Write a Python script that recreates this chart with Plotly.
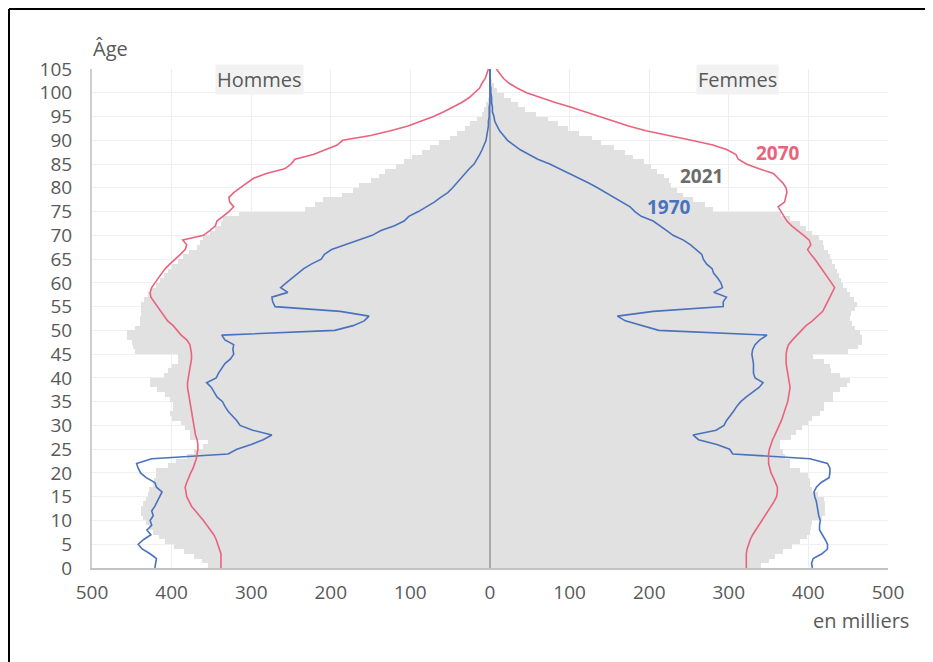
import plotly.graph_objects as go

ages = list(range(106))

men_2021 = [354, 362, 372, 385, 397, 408, 416, 423, 428, 432,
            436, 438, 438, 436, 432, 430, 428, 424, 422, 420,
            419, 405, 394, 381, 372, 360, 354, 377, 377, 383,
            388, 400, 402, 398, 398, 402, 408, 418, 427, 427,
            410, 405, 400, 392, 392, 446, 448, 450, 456, 456,
            446, 440, 440, 438, 438, 438, 435, 430, 426, 420,
            415, 410, 404, 400, 392, 386, 378, 368, 364, 360,
            352, 346, 338, 335, 315, 232, 220, 210, 186, 172,
            165, 150, 140, 132, 118, 108, 98, 86, 76, 64,
            50, 42, 32, 25, 16, 10, 8, 5, 2, 1,
            1, 0, 0, 0, 0, 0]

women_2021 = [341, 350, 358, 368, 380, 390, 398, 402, 403, 405,
              417, 421, 421, 421, 420, 412, 405, 402, 402, 400,
              390, 377, 377, 370, 368, 364, 364, 378, 385, 392,
              400, 404, 415, 419, 419, 431, 431, 440, 448, 452,
              440, 428, 427, 419, 406, 450, 462, 467, 467, 465,
              458, 455, 452, 454, 458, 461, 457, 452, 448, 444,
              441, 439, 436, 433, 430, 427, 424, 420, 418, 413,
              404, 397, 390, 377, 365, 280, 270, 255, 243, 235,
              228, 225, 219, 210, 202, 193, 180, 170, 156, 140,
              128, 112, 98, 86, 73, 58, 44, 35, 26, 17,
              9, 5, 3, 1, 1, 0]

men_1970 = [421, 420, 419, 427, 437, 442, 435, 426, 431, 425,
            427, 423, 425, 421, 418, 414, 412, 419, 421, 432,
            439, 442, 444, 425, 329, 318, 300, 285, 274, 298,
            314, 318, 324, 329, 333, 336, 343, 347, 350, 356,
            344, 341, 337, 333, 326, 322, 323, 322, 333, 337,
            195, 172, 158, 152, 188, 270, 273, 274, 254, 263,
            256, 249, 242, 234, 224, 212, 208, 199, 182, 165,
            148, 137, 120, 108, 102, 90, 80, 70, 62, 53,
            47, 42, 36, 31, 26, 20, 16, 13, 10, 7,
            5, 4, 3, 2, 2, 1, 1, 1, 0, 0,
            0, 0, 0, 0, 0, 0]

women_1970 = [405, 404, 406, 417, 424, 424, 421, 418, 414, 414,
              415, 413, 412, 411, 410, 408, 407, 410, 416, 426,
              427, 427, 424, 402, 305, 301, 285, 262, 255, 284,
              294, 297, 302, 306, 310, 315, 322, 330, 338, 343,
              333, 331, 331, 331, 330, 329, 330, 333, 339, 348,
              212, 190, 170, 160, 205, 293, 293, 297, 281, 292,
              290, 286, 281, 279, 272, 268, 266, 259, 252, 243,
              230, 222, 214, 205, 190, 182, 176, 166, 155, 145,
              135, 124, 112, 100, 88, 75, 60, 48, 38, 30,
              22, 17, 12, 9, 6, 5, 3, 3, 2, 2,
              1, 1, 0, 0, 0, 0]

men_2070 = [338, 338, 338, 338, 340, 342, 344, 347, 351, 356,
            360, 365, 370, 375, 378, 381, 382, 383, 381, 379,
            376, 373, 371, 369, 368, 367, 367, 368, 370, 371,
            372, 373, 374, 375, 376, 377, 378, 379, 380, 380,
            379, 378, 377, 376, 375, 375, 376, 377, 381, 388,
            393, 398, 405, 409, 413, 417, 422, 426, 427, 425,
            421, 417, 413, 408, 402, 395, 389, 383, 381, 386,
            360, 352, 345, 343, 335, 328, 322, 327, 328, 322,
            314, 306, 297, 281, 258, 250, 245, 222, 206, 192,
            185, 150, 125, 103, 87, 71, 58, 46, 35, 26,
            20, 13, 10, 6, 4, 2]

women_2070 = [322, 322, 322, 322, 323, 325, 327, 330, 334, 338,
              341, 346, 350, 354, 357, 360, 361, 361, 359, 356,
              353, 351, 350, 350, 350, 351, 353, 355, 358, 361,
              363, 366, 368, 370, 372, 374, 375, 376, 377, 376,
              375, 374, 373, 372, 372, 372, 373, 375, 380, 386,
              392, 397, 405, 412, 418, 421, 424, 428, 431, 433,
              429, 425, 421, 416, 412, 408, 403, 399, 403, 401,
              394, 386, 379, 373, 369, 365, 362, 370, 372, 373,
              372, 368, 362, 356, 338, 322, 312, 309, 298, 280,
              253, 222, 196, 174, 156, 138, 120, 101, 81, 62,
              46, 34, 24, 17, 12, 8]

x_ticks = [-500, -400, -300, -200, -100, 0, 100, 200, 300, 400, 500]
x_ticktext = ["500", "400", "300", "200", "100", "0", "100", "200", "300", "400", "500"]
y_ticks = list(range(0, 106, 5))

GRAY_FILL = "#e1e1e1"
RED = "#e9637c"
BLUE = "#4a72bd"
TXT = "#595959"
FONT = "Open Sans"

fig = go.Figure()

fig.add_trace(go.Bar(
    y=ages, x=[-v for v in men_2021], orientation="h", width=1, offset=0,
    marker=dict(color=GRAY_FILL, line=dict(width=0)), showlegend=False,
))
fig.add_trace(go.Bar(
    y=ages, x=women_2021, orientation="h", width=1, offset=0,
    marker=dict(color=GRAY_FILL, line=dict(width=0)), showlegend=False,
))

# central axis line
fig.add_trace(go.Scatter(x=[0, 0], y=[0, 105], mode="lines",
                         line=dict(color="#a9a9a9", width=2), showlegend=False,
                         hoverinfo="skip"))

for vals, sign, col in [(men_1970, -1, BLUE), (women_1970, 1, BLUE),
                        (men_2070, -1, RED), (women_2070, 1, RED)]:
    fig.add_trace(go.Scatter(
        x=[sign * v for v in vals], y=ages, mode="lines",
        line=dict(color=col, width=1.6), showlegend=False,
    ))

# the page body has an 8px margin: work in screen coordinates and shift
OFF = 8
W, H = 933 - OFF, 662 - OFF
PL, PR, PT, PB = 92, 888, 69, 568          # plot area in screen pixels
L, T = PL - OFF, PT - OFF
R, B = W - (PR - OFF), H - (PB - OFF)
pw, ph = W - L - R, H - T - B


def px(xs):
    return (xs - OFF - L) / pw


def py(ys):
    return (H - B - (ys - OFF)) / ph


frame_col = "#000000"
fx0, fy0, fx1 = 9, 9, 927
shapes = [
    dict(type="line", xref="paper", yref="paper", x0=px(fx0), x1=px(fx0), y0=py(fy0), y1=py(720),
         line=dict(color=frame_col, width=2)),
    dict(type="line", xref="paper", yref="paper", x0=px(fx0), x1=px(fx1), y0=py(fy0), y1=py(fy0),
         line=dict(color=frame_col, width=2)),
    dict(type="line", xref="paper", yref="paper", x0=px(fx1), x1=px(fx1), y0=py(fy0), y1=py(720),
         line=dict(color=frame_col, width=2)),
]

annotations = [
    dict(text="Âge", xref="paper", yref="paper", x=px(91), y=py(48), xanchor="left",
         yanchor="middle", showarrow=False, font=dict(family=FONT, size=20, color=TXT)),
    dict(text="en milliers", xref="paper", yref="paper", x=px(911), y=py(620), xanchor="right",
         yanchor="middle", showarrow=False, font=dict(family=FONT, size=20, color=TXT)),
    dict(text="Hommes", xref="x", yref="y", x=-289, y=102.8, xanchor="center", yanchor="middle",
         showarrow=False, bgcolor="#f2f2f2", font=dict(family=FONT, size=20, color=TXT)),
    dict(text="Femmes", xref="x", yref="y", x=311, y=102.8, xanchor="center", yanchor="middle",
         showarrow=False, bgcolor="#f2f2f2", font=dict(family=FONT, size=20, color=TXT)),
    dict(text="<b>2070</b>", xref="x", yref="y", x=362, y=87.3, xanchor="center", yanchor="middle",
         showarrow=False, font=dict(family=FONT, size=19, color=RED)),
    dict(text="<b>2021</b>", xref="x", yref="y", x=266, y=82.5, xanchor="center", yanchor="middle",
         showarrow=False, font=dict(family=FONT, size=19, color="#6b6b6b")),
    dict(text="<b>1970</b>", xref="x", yref="y", x=225, y=76.0, xanchor="center", yanchor="middle",
         showarrow=False, font=dict(family=FONT, size=19, color=BLUE)),
]

fig.update_layout(
    width=W, height=H,
    margin=dict(l=L, r=R, t=T, b=B),
    paper_bgcolor="white", plot_bgcolor="white",
    barmode="overlay", bargap=0,
    shapes=shapes, annotations=annotations,
    font=dict(family=FONT, size=19, color=TXT),
    xaxis=dict(range=[-500, 500], tickvals=x_ticks, ticktext=x_ticktext,
               showgrid=True, gridcolor="#eeeeee", gridwidth=1, zeroline=False,
               showline=True, linecolor="#c3c3c3", linewidth=2, ticks="",
               ticklabelstandoff=6, tickfont=dict(family=FONT, size=19, color=TXT), fixedrange=True),
    yaxis=dict(range=[0, 105], tickvals=y_ticks, showgrid=True, gridcolor="#f0f0f0",
               gridwidth=1, zeroline=False, showline=True, linecolor="#cfcfcf", linewidth=2,
               ticks="", ticklabelstandoff=14, tickfont=dict(family=FONT, size=19, color=TXT),
               fixedrange=True),
)

fig.write_html("out.html")
